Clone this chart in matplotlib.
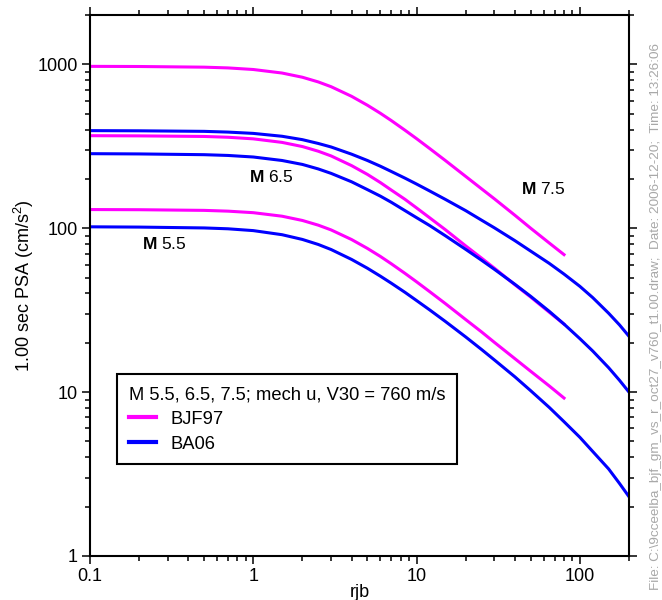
import matplotlib
matplotlib.use("Agg")
import matplotlib.pyplot as plt
from matplotlib.ticker import LogLocator, NullFormatter, FixedLocator, FixedFormatter

plt.rcParams['font.family'] = ['Liberation Sans', 'DejaVu Sans']
plt.rcParams['mathtext.fontset'] = 'custom'
plt.rcParams['mathtext.rm'] = 'Liberation Sans'
plt.rcParams['mathtext.bf'] = 'Liberation Sans:bold'
plt.rcParams['mathtext.default'] = 'regular'

# distances (km)
rjb_ba06 = [0.1, 0.2, 0.5, 0.7, 1, 1.5, 2, 2.5, 3, 4, 5, 6, 7, 8.5, 10, 12, 15, 20, 25, 30,
            40, 50, 65, 80, 100, 120, 150, 175, 200]
rjb_bjf97 = [0.1, 0.2, 0.5, 0.7, 1, 1.5, 2, 2.5, 3, 4, 5, 6, 7, 8.5, 10, 12, 15, 20, 25, 30,
             40, 50, 65, 80]

# PSA (cm/s^2), BJF97 curves (magenta)
bjf97_m55 = [130, 129.7, 128.5, 127.1, 124.4, 118.4, 111.5, 104.4, 97.6, 85.3, 75.3, 67.3, 60.7,
             53.0, 47.1, 41.1, 34.7, 27.7, 23.3, 20.1, 16.0, 13.4, 10.9, 9.2]
bjf97_m65 = [367, 366, 363, 359, 351, 334, 315, 295, 276, 241, 213, 190, 171, 150, 133, 116, 98,
             78, 65.7, 57, 45.2, 38, 30.7, 26]
bjf97_m75 = [972, 970, 961, 951, 930, 885, 834, 781, 730, 638, 563, 503, 454, 396, 352, 307, 259,
             207, 174, 151, 120, 100, 81.2, 69]

# PSA (cm/s^2), BA06 curves (blue)
ba06_m55 = [102, 101.6, 100.4, 99.2, 96.7, 91.3, 85.4, 79.6, 74.1, 64.5, 57.0, 51.0, 46.2, 40.6,
            36.2, 31.8, 27.0, 21.7, 18.2, 15.7, 12.4, 10.2, 8.06, 6.6, 5.3, 4.34, 3.4, 2.77, 2.3]
ba06_m65 = [285, 284, 281, 278, 272, 259, 245, 230, 216, 192, 172, 157, 144, 128, 116, 104, 90,
            74.3, 63.8, 56.1, 45.5, 38.4, 31.1, 26.0, 21.2, 17.8, 14.1, 11.8, 10.0]
ba06_m75 = [394, 393, 390, 386, 379, 364, 347, 329, 313, 283, 259, 239, 222, 202, 186, 169, 150,
            128, 112, 100.5, 84, 72.5, 61, 52.5, 44.2, 37.7, 30.3, 25.7, 21.9]

mag_labels = ["5.5", "6.5", "7.5"]
mag_label_pos = [(0.208, 80), (0.94, 205), (43.7, 173)]

fig = plt.figure(figsize=(6.62, 6.0), dpi=100)
ax = fig.add_axes([90/662, 1 - 556/600, 539/662, 541/600])

lw = 2.2
for i, y in enumerate([bjf97_m55, bjf97_m65, bjf97_m75]):
    ax.plot(rjb_bjf97, y, color='#ff00ff', lw=lw, label='BJF97' if i == 0 else None)
for i, y in enumerate([ba06_m55, ba06_m65, ba06_m75]):
    ax.plot(rjb_ba06, y, color='#0000ff', lw=lw, label='BA06' if i == 0 else None)

ax.set_xscale('log')
ax.set_yscale('log')
ax.set_xlim(0.1, 200)
ax.set_ylim(1, 2000)

ax.xaxis.set_major_locator(FixedLocator([0.1, 1, 10, 100]))
ax.xaxis.set_major_formatter(FixedFormatter(['0.1', '1', '10', '100']))
ax.yaxis.set_major_locator(FixedLocator([1, 10, 100, 1000]))
ax.yaxis.set_major_formatter(FixedFormatter(['1', '10', '100', '1000']))
ax.xaxis.set_minor_locator(LogLocator(base=10, subs=range(2, 10)))
ax.yaxis.set_minor_locator(LogLocator(base=10, subs=range(2, 10)))
ax.xaxis.set_minor_formatter(NullFormatter())
ax.yaxis.set_minor_formatter(NullFormatter())

ax.tick_params(which='both', direction='out', top=True, right=True,
               width=1.1, colors='black', labelsize=13)
ax.tick_params(which='major', length=5.8, pad=3)
ax.tick_params(which='minor', length=3.6)
for s in ax.spines.values():
    s.set_linewidth(1.5)

ax.set_xlabel('rjb', fontsize=13, labelpad=-1)
ax.set_ylabel('1.00 sec PSA (cm/s$^2$)', fontsize=13, labelpad=1)

for lab, (x, y) in zip(mag_labels, mag_label_pos):
    ax.text(x, y, r'$\mathbf{M}$ ' + lab, fontsize=12.5, va='center', ha='left')

leg = ax.legend(loc='upper left', bbox_to_anchor=(0.0495, 0.336), borderaxespad=0,
                title='M 5.5, 6.5, 7.5; mech u, V30 = 760 m/s', title_fontsize=13.2,
                fontsize=13.2, alignment='left', fancybox=False, framealpha=1,
                edgecolor='black', handlelength=1.5, handletextpad=0.8,
                borderpad=0.65, labelspacing=0.42)
leg.get_frame().set_linewidth(1.5)
for h in leg.get_lines():
    h.set_linewidth(3)

fig.text(0.991, 0.472, r'File: C:\9cceelba_bjf_gm_vs_r_oct27_v760_t1.00.draw;  Date: 2006-12-20;  Time: 13:26:06',
         rotation=90, fontsize=9.7, color='#a8a8a8', ha='center', va='center')

fig.savefig('out.png', dpi=100)
